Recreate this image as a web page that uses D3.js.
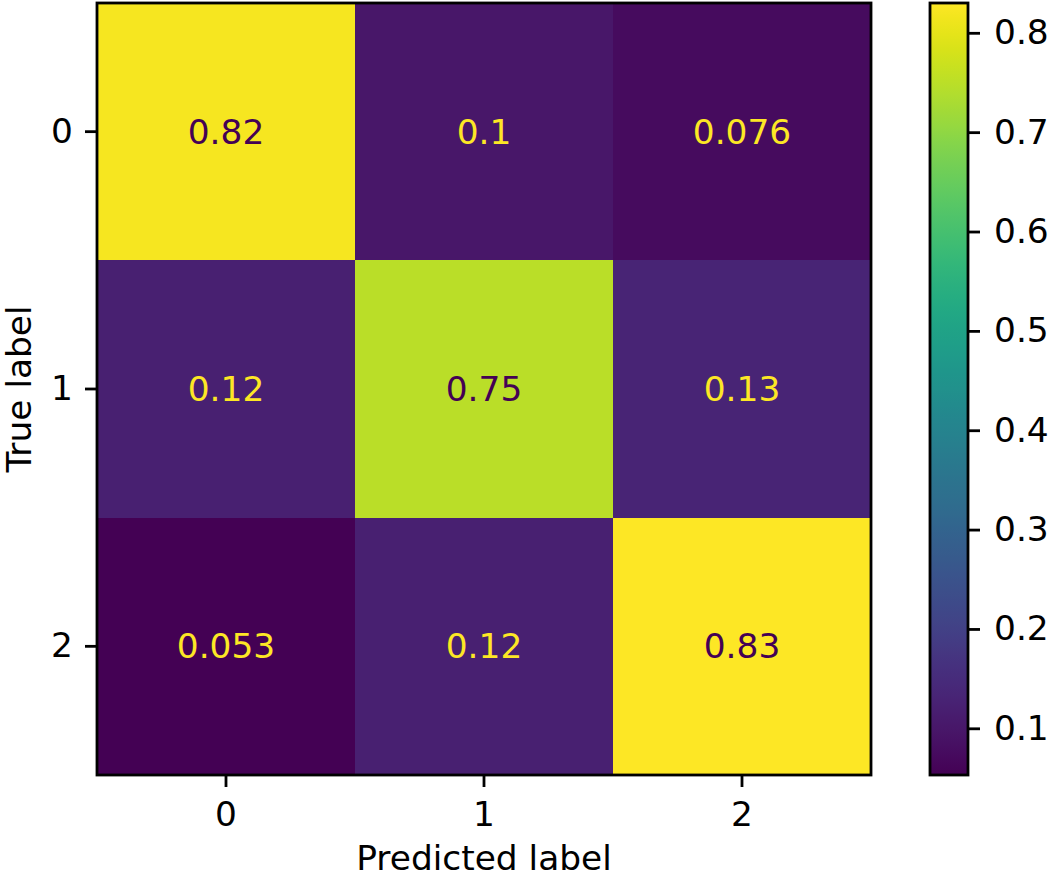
<!DOCTYPE html>
<html>
<head>
<meta charset="utf-8">
<script src="https://cdn.jsdelivr.net/npm/d3@7"></script>
<style>
  html, body { margin: 0; padding: 0; background: #fff; }
  svg { display: block; }
  text { font-family: "DejaVu Sans", sans-serif; }
</style>
</head>
<body>
<script>
// ---- data ----
const labels = ["0", "1", "2"];
const row0 = [0.82, 0.1, 0.076];
const row1 = [0.12, 0.75, 0.13];
const row2 = [0.053, 0.12, 0.83];
const matrix = [row0, row1, row2];
const cellText = [["0.82", "0.1", "0.076"], ["0.12", "0.75", "0.13"], ["0.053", "0.12", "0.83"]];
const colorbarTicks = [0.1, 0.2, 0.3, 0.4, 0.5, 0.6, 0.7, 0.8];
const xTitle = "Predicted label";
const yTitle = "True label";

// ---- layout ----
const W = 1050, H = 878;
const plot = { left: 97, top: 3, right: 871, bottom: 775 };
const cb = { left: 930, right: 968, top: 3, bottom: 775 };
const fontSize = 34.4;
const tickLen = 12;
const lw = 2.8;

const svg = d3.select("body").append("svg").attr("width", W).attr("height", H);

const allVals = matrix.flat();
const vmin = d3.min(allVals), vmax = d3.max(allVals);
const norm = d3.scaleLinear().domain([vmin, vmax]).range([0, 1]);
const color = v => d3.interpolateViridis(norm(v));

const x = d3.scaleBand().domain(labels).range([plot.left, plot.right]);
const y = d3.scaleBand().domain(labels).range([plot.top, plot.bottom]);

const cells = [];
matrix.forEach((row, i) => row.forEach((v, j) => cells.push({ i, j, v, t: cellText[i][j] })));

svg.append("g").selectAll("rect").data(cells).join("rect")
  .attr("x", d => x(labels[d.j]))
  .attr("y", d => y(labels[d.i]))
  .attr("width", x.bandwidth() + 0.5)
  .attr("height", y.bandwidth() + 0.5)
  .attr("fill", d => color(d.v))
  .attr("shape-rendering", "crispEdges");

const thresh = (vmin + vmax) / 2;
svg.append("g").selectAll("text").data(cells).join("text")
  .attr("x", d => x(labels[d.j]) + x.bandwidth() / 2)
  .attr("y", d => y(labels[d.i]) + y.bandwidth() / 2)
  .attr("text-anchor", "middle")
  .attr("dominant-baseline", "central")
  .attr("font-size", fontSize)
  .attr("fill", d => d.v > thresh ? d3.interpolateViridis(0) : d3.interpolateViridis(1))
  .text(d => d.t);

// frame
svg.append("rect")
  .attr("x", plot.left).attr("y", plot.top)
  .attr("width", plot.right - plot.left).attr("height", plot.bottom - plot.top)
  .attr("fill", "none").attr("stroke", "#000").attr("stroke-width", lw);

// x axis
const xAxis = svg.append("g").attr("transform", `translate(0,${plot.bottom})`)
  .call(d3.axisBottom(x).tickSize(tickLen).tickPadding(10));
// y axis
const yAxis = svg.append("g").attr("transform", `translate(${plot.left},0)`)
  .call(d3.axisLeft(y).tickSize(tickLen).tickPadding(12));
[xAxis, yAxis].forEach(a => {
  a.select(".domain").remove();
  a.selectAll(".tick line").attr("stroke", "#000").attr("stroke-width", lw);
  a.selectAll(".tick text").attr("font-size", fontSize).attr("fill", "#000")
    .style("font-family", "DejaVu Sans");
});
xAxis.selectAll(".tick text").attr("dy", "0.85em");

// axis titles
svg.append("text")
  .attr("x", (plot.left + plot.right) / 2)
  .attr("y", 870)
  .attr("text-anchor", "middle")
  .attr("font-size", fontSize)
  .attr("fill", "#000")
  .text(xTitle);
svg.append("text")
  .attr("transform", `translate(31,${(plot.top + plot.bottom) / 2}) rotate(-90)`)
  .attr("text-anchor", "middle")
  .attr("font-size", fontSize)
  .attr("fill", "#000")
  .text(yTitle);

// colorbar
const defs = svg.append("defs");
const grad = defs.append("linearGradient").attr("id", "cbgrad")
  .attr("x1", 0).attr("y1", 1).attr("x2", 0).attr("y2", 0);
d3.range(0, 1.0001, 0.02).forEach(t => {
  grad.append("stop").attr("offset", t).attr("stop-color", d3.interpolateViridis(t));
});
svg.append("rect")
  .attr("x", cb.left).attr("y", cb.top)
  .attr("width", cb.right - cb.left).attr("height", cb.bottom - cb.top)
  .attr("fill", "url(#cbgrad)")
  .attr("stroke", "#000").attr("stroke-width", lw);

const cbScale = d3.scaleLinear().domain([vmin, vmax]).range([cb.bottom, cb.top]);
const cbAxis = svg.append("g").attr("transform", `translate(${cb.right},0)`)
  .call(d3.axisRight(cbScale).tickValues(colorbarTicks).tickFormat(d3.format(".1f"))
    .tickSize(tickLen).tickPadding(14));
cbAxis.select(".domain").remove();
cbAxis.selectAll(".tick line").attr("stroke", "#000").attr("stroke-width", lw);
cbAxis.selectAll(".tick text").attr("font-size", fontSize).attr("fill", "#000")
  .style("font-family", "DejaVu Sans");
</script>
</body>
</html>
